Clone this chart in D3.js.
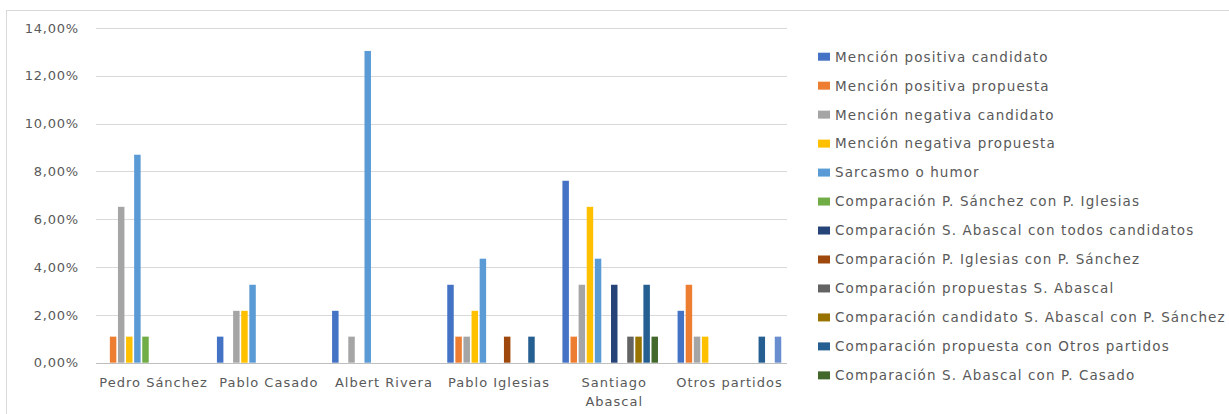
<!DOCTYPE html>
<html>
<head>
<meta charset="utf-8">
<script src="https://cdn.jsdelivr.net/npm/d3@7"></script>
<style>
  body { margin: 0; background: #fff; }
  text { font-family: "DejaVu Sans", sans-serif; fill: #595959; }
</style>
</head>
<body>
<svg id="chart"></svg>
<script>
// Categories (x axis)
const categories = ["Pedro Sánchez", "Pablo Casado", "Albert Rivera", "Pablo Iglesias", "Santiago Abascal", "Otros partidos"];

// Legend names (the 13th series has no visible legend entry in the picture)
const seriesNames = [
    "Mención positiva candidato",
    "Mención positiva propuesta",
    "Mención negativa candidato",
    "Mención negativa propuesta",
    "Sarcasmo o humor",
    "Comparación P. Sánchez con P. Iglesias",
    "Comparación S. Abascal con todos candidatos",
    "Comparación P. Iglesias con P. Sánchez",
    "Comparación propuestas S. Abascal",
    "Comparación candidato S. Abascal con P. Sánchez",
    "Comparación propuesta con Otros partidos",
    "Comparación S. Abascal con P. Casado"
];

const seriesColors = ["#4472C4", "#ED7D31", "#A5A5A5", "#FFC000", "#5B9BD5", "#70AD47",
    "#264478", "#9E480E", "#636363", "#997300", "#255E91", "#43682B", "#698ED0"];

// Values per series, one per category (fractions)
const posCandidato   = [0,      0.0109, 0.0217, 0.0326, 0.0761, 0.0217];
const posPropuesta   = [0.0109, 0,      0,      0.0109, 0.0109, 0.0326];
const negCandidato   = [0.0652, 0.0217, 0.0109, 0.0109, 0.0326, 0.0109];
const negPropuesta   = [0.0109, 0.0217, 0,      0.0217, 0.0652, 0.0109];
const sarcasmo       = [0.0870, 0.0326, 0.1304, 0.0435, 0.0435, 0];
const compSanIgl     = [0.0109, 0,      0,      0,      0,      0];
const compAbaTodos   = [0,      0,      0,      0,      0.0326, 0];
const compIglSan     = [0,      0,      0,      0.0109, 0,      0];
const compPropAba    = [0,      0,      0,      0,      0.0109, 0];
const compCandAbaSan = [0,      0,      0,      0,      0.0109, 0];
const compPropOtros  = [0,      0,      0,      0.0109, 0.0326, 0.0109];
const compAbaCas     = [0,      0,      0,      0,      0.0109, 0];
const serie13        = [0,      0,      0,      0,      0,      0.0109];

const seriesValues = [posCandidato, posPropuesta, negCandidato, negPropuesta, sarcasmo, compSanIgl,
    compAbaTodos, compIglSan, compPropAba, compCandAbaSan, compPropOtros, compAbaCas, serie13];

const yTicks = [0, 0.02, 0.04, 0.06, 0.08, 0.10, 0.12, 0.14];

const W = 1229, H = 414;
const plot = { left: 96, right: 787, top: 28, bottom: 362.7 };

const svg = d3.select("#chart").attr("width", W).attr("height", H);

svg.append("rect").attr("width", W).attr("height", H).attr("fill", "#fff");

// outer frame (only top and left edges are visible)
svg.append("rect")
    .attr("x", 6.5).attr("y", 10.5)
    .attr("width", W + 10).attr("height", H + 10)
    .attr("fill", "none").attr("stroke", "#d9d9d9");

// Scales
const x0 = d3.scaleBand().domain(categories).range([plot.left, plot.right])
    .paddingInner(0.1).paddingOuter(0.05);
const x1 = d3.scaleBand().domain(d3.range(seriesValues.length)).range([0, x0.bandwidth()])
    .paddingInner(0.2).paddingOuter(0);
const y = d3.scaleLinear().domain([0, 0.14]).range([plot.bottom, plot.top]);

// Gridlines
svg.append("g").selectAll("line").data(yTicks.slice(1)).join("line")
    .attr("x1", plot.left).attr("x2", plot.right)
    .attr("y1", d => Math.round(y(d)) + 0.5).attr("y2", d => Math.round(y(d)) + 0.5)
    .attr("stroke", "#d9d9d9");

// Y axis labels
const fmt = d => d3.format(".2f")(d * 100).replace(".", ",") + "%";
const yAxis = svg.append("g")
    .attr("transform", "translate(" + (plot.left - 17) + ",0)")
    .call(d3.axisLeft(y).tickValues(yTicks).tickFormat(fmt).tickSize(0).tickPadding(0));
yAxis.select(".domain").remove();
yAxis.selectAll("text")
    .style("font-family", "DejaVu Sans")
    .style("font-size", "13px")
    .style("letter-spacing", "0.8px")
    .attr("fill", "#595959");

// Bars
svg.append("g").selectAll("g").data(seriesValues).join("g")
    .attr("fill", (d, i) => seriesColors[i])
    .selectAll("rect")
    .data((vals, si) => vals.map((v, ci) => ({ v, ci, si })).filter(d => d.v > 0))
    .join("rect")
    .attr("x", d => x0(categories[d.ci]) + x1(d.si))
    .attr("width", x1.bandwidth())
    .attr("y", d => y(d.v))
    .attr("height", d => y(0) - y(d.v));

// X axis line
svg.append("line")
    .attr("x1", plot.left).attr("x2", plot.right)
    .attr("y1", Math.round(y(0)) + 0.5).attr("y2", Math.round(y(0)) + 0.5)
    .attr("stroke", "#bfbfbf");

// X axis labels (wrapped when wider than the band)
const xAxis = svg.append("g")
    .attr("transform", "translate(0," + plot.bottom + ")")
    .call(d3.axisBottom(x0).tickSize(0).tickPadding(0));
xAxis.select(".domain").remove();
xAxis.selectAll("text")
    .style("font-family", "DejaVu Sans")
    .style("font-size", "13px")
    .style("letter-spacing", "1px")
    .attr("fill", "#595959")
    .attr("dy", null)
    .attr("y", 24)
    .each(function (d) {
        const t = d3.select(this);
        if (this.getComputedTextLength() > x0.step()) {
            const words = d.split(" ");
            t.text(null);
            words.forEach((w, i) => {
                t.append("tspan").attr("x", 0).attr("y", 24 + i * 19).text(w);
            });
        }
    });

// Legend
const legend = svg.append("g").selectAll("g").data(seriesNames).join("g")
    .attr("transform", (d, i) => "translate(818," + (56.7 + i * 28.97) + ")");
legend.append("rect")
    .attr("x", 0).attr("y", -4).attr("width", 12).attr("height", 8)
    .attr("fill", (d, i) => seriesColors[i]);
legend.append("text")
    .attr("x", 17).attr("dy", "0.36em")
    .style("font-size", "13.5px")
    .style("letter-spacing", "1.1px")
    .text(d => d);
</script>
</body>
</html>
